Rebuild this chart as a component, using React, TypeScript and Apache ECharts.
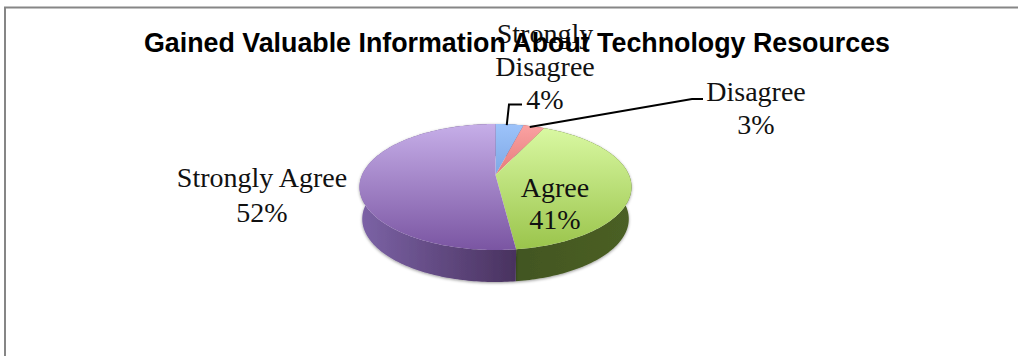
import React, { useEffect, useRef } from "react";
import * as echarts from "echarts";

// Survey shares, clockwise from twelve o'clock.
const categories = ["Strongly Disagree", "Disagree", "Agree", "Strongly Agree"];
const shares = [4, 3, 41, 52];
const tickLabels = ["4%", "3%", "41%", "52%"];
const chartTitle = "Gained Valuable Information About Technology Resources";

const faceStops = [
  ["#9DC3FA", "#4F7FC4"],
  ["#FBA3A3", "#C43F3F"],
  ["#DBFAA5", "#9AC44B"],
  ["#C6AEE8", "#7A55A2"],
];
const wallStops = [
  ["#3F66A0", "#3F66A0"],
  ["#A03A3A", "#A03A3A"],
  ["#425620", "#4B5F25"],
  ["#7C63A6", "#49325F"],
];

// Perspective disc: centre of the pie, radius, foreshortening.
const CX = 495.5;
const CY = 175;
const RX = 133.5;
const RY = 60.7;
const PERSPECTIVE = 0.1905;
const DEPTH = 32;
const BASE_SCALE = 0.98; // the lower rim recedes a little

const total = shares.reduce((a, b) => a + b, 0);
const startAngle = (i: number) =>
  (shares.slice(0, i).reduce((a, b) => a + b, 0) / total) * 360;

function project(deg: number): [number, number] {
  const t = (deg * Math.PI) / 180;
  const u = Math.sin(t);
  const v = Math.cos(t);
  const k = 1 + PERSPECTIVE * v;
  return [CX + (RX * u) / k, CY - (RY * v) / k];
}

function arcPoints(from: number, to: number, dy = 0, sx = 1): number[][] {
  const pts: number[][] = [];
  const n = Math.max(2, Math.ceil(to - from));
  for (let j = 0; j <= n; j++) {
    const p = project(from + ((to - from) * j) / n);
    pts.push([CX + (p[0] - CX) * sx, p[1] + dy]);
  }
  return pts;
}

const sliceRange = (i: number) => [startAngle(i), startAngle(i + 1)];

const renderWall = (params: any) => {
  const i = params.dataIndex;
  const [a, b] = sliceRange(i);
  const top = arcPoints(a, b);
  const bottom = arcPoints(a, b, DEPTH, BASE_SCALE).reverse();
  const xs = top.map((p) => p[0]);
  return {
    type: "polygon",
    shape: { points: top.concat(bottom) },
    style: {
      fill: new echarts.graphic.LinearGradient(
        Math.min(...xs), 0, Math.max(...xs), 0,
        [
          { offset: 0, color: wallStops[i][0] },
          { offset: 1, color: wallStops[i][1] },
        ],
        true
      ),
      shadowBlur: 3,
      shadowOffsetY: 1,
      shadowColor: "rgba(0,0,0,0.4)",
    },
  };
};

const renderFace = (params: any) => {
  const i = params.dataIndex;
  const [a, b] = sliceRange(i);
  const points = [[CX, CY], ...arcPoints(a, b)];
  return {
    type: "polygon",
    shape: { points },
    style: {
      fill: new echarts.graphic.LinearGradient(
        0, 124, 0, 250,
        [
          { offset: 0, color: faceStops[i][0] },
          { offset: 1, color: faceStops[i][1] },
        ],
        true
      ),
    },
  };
};

// Label placement per slice: centre of the text block and its line lengths.
const labelBoxes = [
  { x: 545, y: 66, lines: ["Strongly", "Disagree"], gap: 33 },
  { x: 756, y: 108, lines: ["Disagree"], gap: 33 },
  { x: 555, y: 203, lines: ["Agree"], gap: 32 },
  { x: 262, y: 195, lines: ["Strongly Agree"], gap: 35 },
];
// Leader lines: where along the slice's rim they start, then their elbow.
const leaders = [
  { along: 0.4, elbow: [[509, 104.5], [522, 104.5]] },
  { along: 0.3, elbow: [[692, 99], [703, 99]] },
  null,
  null,
];

const renderLabel = (params: any) => {
  const i = params.dataIndex;
  const box = labelBoxes[i];
  const rows = [...box.lines, tickLabels[i]];
  const children: any[] = rows.map((text, r) => ({
    type: "text",
    style: {
      text,
      x: box.x,
      y: box.y + (r - (rows.length - 1) / 2) * box.gap,
      align: "center",
      verticalAlign: "middle",
      fill: "#111",
      font: '28px "Liberation Serif", serif',
    },
  }));
  const leader = leaders[i];
  if (leader) {
    const [a, b] = sliceRange(i);
    const start = project(a + (b - a) * leader.along);
    children.push({
      type: "polyline",
      shape: { points: [[start[0], start[1] + 1], ...leader.elbow] },
      style: { stroke: "#000", lineWidth: 2, fill: "none" },
    });
  }
  return { type: "group", children };
};

export default function App() {
  const ref = useRef<HTMLDivElement>(null);
  useEffect(() => {
    document.body.style.margin = "0";
    const chart = echarts.init(ref.current!, null, { renderer: "svg" });
    const rows = categories.map((name, i) => ({ name, value: shares[i] }));
    chart.setOption({
      animation: false,
      backgroundColor: "#fff",
      title: {
        text: chartTitle,
        left: 512,
        top: 24,
        textAlign: "center",
        textStyle: {
          fontFamily: '"Liberation Sans", Arial, sans-serif',
          fontWeight: "bold",
          fontSize: 26.8,
          color: "#000",
        },
      },
      graphic: [
        {
          type: "polyline",
          shape: { points: [[5, 356], [5, 7.5], [1018, 7.5]] },
          style: { stroke: "#868686", lineWidth: 2, fill: "none" },
        },
      ],
      series: [
        { type: "custom", coordinateSystem: "none", z: 1, data: rows, renderItem: renderWall },
        { type: "custom", coordinateSystem: "none", z: 2, data: rows, renderItem: renderFace },
        { type: "custom", coordinateSystem: "none", z: 3, data: rows, renderItem: renderLabel },
      ],
    });
    return () => chart.dispose();
  }, []);
  return <div ref={ref} style={{ width: 1018, height: 356 }} />;
}
